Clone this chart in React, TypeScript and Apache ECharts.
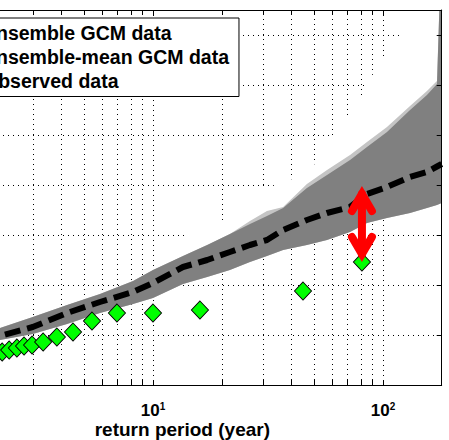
import React, { useEffect, useRef } from 'react';
import * as echarts from 'echarts';

const FONT = '"Liberation Sans", Arial, Helvetica, sans-serif';

// Return periods (years) at which the ensemble envelope and mean are sampled
const periods = [1.45, 2.16, 3.0, 4.23, 5.88, 8.19, 10, 13.5, 17.2, 21.6, 26.4, 31.3, 36.8, 46.7, 57.1, 71.9, 85.2, 104.1, 131.1, 155.3, 171.7, 180];
const ensembleLower = [0.70, 0.90, 1.02, 1.22, 1.44, 1.62, 1.74, 2.02, 2.16, 2.30, 2.46, 2.58, 2.70, 2.80, 2.90, 3.06, 3.24, 3.34, 3.44, 3.54, 3.60, 3.64];
const ensembleUpper = [0.94, 1.14, 1.36, 1.60, 1.82, 2.08, 2.30, 2.58, 2.80, 3.02, 3.22, 3.38, 3.54, 3.94, 4.20, 4.50, 4.76, 5.06, 5.50, 5.80, 6.02, 9.0];
const ensembleOuter = [0.94, 1.14, 1.36, 1.60, 1.82, 2.08, 2.30, 2.58, 2.80, 3.02, 3.28, 3.48, 3.56, 4.02, 4.30, 4.60, 4.86, 5.16, 5.58, 5.88, 6.08, 9.0];
const ensembleMean = [0.80, 0.98, 1.16, 1.44, 1.66, 1.86, 2.04, 2.36, 2.50, 2.66, 2.80, 2.90, 3.10, 3.30, 3.44, 3.56, 3.82, 3.96, 4.16, 4.26, 4.37, 4.42];

// Upper limit of the ensemble maximum envelope (white fill behind the band)
const maxEnvPeriods = [10, 13.8, 20.2, 25.1, 30.1, 36.4, 43.6, 50.1, 60.6, 70.4, 80.2, 90.5, 100, 118.6, 141.9, 180];
const maxEnvValues = [2.26, 2.98, 3.26, 3.70, 3.94, 4.02, 4.20, 4.40, 5.00, 5.36, 5.74, 6.22, 6.50, 7.02, 7.5, 7.5];

// Observed annual maxima against their return periods
const obsPeriods = [2.21, 2.37, 2.56, 2.75, 2.98, 3.33, 3.82, 4.49, 5.43, 6.97, 10.0, 16.0, 44.9, 81.0];
const obsValues = [0.66, 0.70, 0.74, 0.78, 0.80, 0.86, 0.96, 1.06, 1.28, 1.44, 1.44, 1.50, 1.88, 2.46];

// Gap between the ensemble mean and the largest observed event
const gapPeriod = 81.0;
const gapTop = 3.82;
const gapBottom = 2.62;

const xMin = 1;
const xMax = 180;
const yMin = 0;
const yMax = 7.5;
const yStep = 1;
const minorPeriods = [2, 3, 4, 5, 6, 7, 8, 9, 20, 30, 40, 50, 60, 70, 80, 90];

export default function App() {
  const ref = useRef<HTMLDivElement>(null);

  useEffect(() => {
    if (!ref.current) return;
    const chart = echarts.init(ref.current, undefined, { renderer: 'svg' });

    const coverLowT = periods.filter((t) => t >= 10);
    const coverLowV = ensembleLower.filter((_, i) => periods[i] >= 10);

    const axisLineStyle = { color: '#000', width: 1 };
    const dotted = { color: '#000', width: 1, type: [1, 4] as number[] };

    // closed outline: top curve left-to-right, then bottom curve right-to-left
    const outline = (api: any, topT: number[], topV: number[], botT: number[], botV: number[]) => {
      const pts: number[][] = [];
      for (let i = 0; i < topT.length; i++) pts.push(api.coord([topT[i], topV[i]]));
      for (let i = botT.length - 1; i >= 0; i--) pts.push(api.coord([botT[i], botV[i]]));
      return pts;
    };

    chart.setOption({
      animation: false,
      backgroundColor: '#fff',
      grid: { left: -77, right: 7.3, top: 10, bottom: 55, containLabel: false, outerBoundsMode: 'none' },
      legend: {
        orient: 'vertical',
        left: -73,
        top: 18,
        itemWidth: 40,
        itemHeight: 14,
        itemGap: 4,
        padding: [5.25, 10, 5.25, 10],
        backgroundColor: '#fff',
        borderColor: '#000',
        borderWidth: 1,
        borderRadius: 0,
        selectedMode: false,
        z: 20,
        textStyle: { fontSize: 19.5, fontWeight: 'bold', fontFamily: FONT, color: '#000' },
        data: [
          { name: 'Ensemble GCM data', icon: 'rect', itemStyle: { color: '#808080' } },
          { name: 'Ensemble-mean GCM data' },
          { name: 'Observed data', icon: 'diamond' },
        ],
      },
      xAxis: [
        {
          type: 'log',
          logBase: 10,
          min: xMin,
          max: xMax,
          position: 'bottom',
          name: 'return period (year)',
          nameLocation: 'middle',
          nameGap: 35,
          nameMoveOverlap: false,
          nameTextStyle: { fontSize: 19, lineHeight: 19, fontWeight: 'bold', fontFamily: FONT, color: '#000' },
          axisLine: { show: true, onZero: false, lineStyle: axisLineStyle },
          axisTick: { show: true, inside: true, length: 5, lineStyle: axisLineStyle },
          axisLabel: {
            show: true,
            margin: 16,
            color: '#000',
            formatter: (v: number) => {
              const e = Math.round(Math.log10(v));
              if (e < 1 || Math.abs(Math.pow(10, e) - v) > 1e-6 * v) return '';
              return `{b|10}{s|${e}}`;
            },
            rich: {
              b: { fontSize: 17, fontWeight: 'bold', fontFamily: FONT, color: '#000', lineHeight: 18, verticalAlign: 'bottom' },
              s: { fontSize: 10, fontWeight: 'bold', fontFamily: FONT, color: '#000', lineHeight: 8, verticalAlign: 'top' },
            },
          },
          splitLine: { show: true, lineStyle: dotted },
          minorTick: { show: false },
        },
        {
          type: 'log',
          logBase: 10,
          min: xMin,
          max: xMax,
          position: 'top',
          z: 3,
          axisLine: { show: true, onZero: false, lineStyle: axisLineStyle },
          axisTick: { show: true, inside: true, length: 5, lineStyle: axisLineStyle },
          axisLabel: { show: false },
          splitLine: { show: false },
        },
      ],
      yAxis: [
        {
          type: 'value',
          min: yMin,
          max: yMax,
          interval: yStep,
          position: 'left',
          axisLine: { show: true, onZero: false, lineStyle: axisLineStyle },
          axisTick: { show: false },
          axisLabel: { show: false },
          splitLine: { show: true, lineStyle: dotted },
        },
        {
          type: 'value',
          min: yMin,
          max: yMax,
          interval: yStep,
          position: 'right',
          z: 3,
          axisLine: { show: true, onZero: false, lineStyle: axisLineStyle },
          axisTick: { show: true, inside: true, length: 5, lineStyle: axisLineStyle },
          axisLabel: { show: false },
          splitLine: { show: false },
        },
      ],
      series: [
        // dotted grid lines at the intermediate log positions
        {
          type: 'custom',
          z: 1,
          silent: true,
          data: minorPeriods.map((t) => [t, yMin]),
          renderItem: (_p: any, api: any) => {
            const t = api.value(0);
            const a = api.coord([t, yMin]);
            const b = api.coord([t, yMax]);
            const x = Math.round(a[0]) + 0.5;
            return {
              type: 'line',
              shape: { x1: x, y1: a[1], x2: x, y2: b[1] },
              style: { stroke: '#000', lineWidth: 1, lineDash: [1, 4] },
            };
          },
        },
        // ensemble spread: white maximum envelope, light outer range, grey band
        {
          type: 'custom',
          name: 'Ensemble GCM data',
          z: 2,
          silent: true,
          clip: true,
          data: [[periods[0], ensembleUpper[0]]],
          renderItem: (_p: any, api: any) => ({
            type: 'group',
            children: [
              {
                type: 'polygon',
                shape: { points: outline(api, maxEnvPeriods, maxEnvValues, coverLowT, coverLowV) },
                style: { fill: '#ffffff' },
              },
              {
                type: 'polygon',
                shape: { points: outline(api, periods, ensembleOuter, periods, ensembleLower) },
                style: { fill: '#c4c4c4' },
              },
              {
                type: 'polygon',
                shape: { points: outline(api, periods, ensembleUpper, periods, ensembleLower) },
                style: { fill: '#808080' },
              },
            ],
          }),
        },
        // minor tick marks on bottom and top borders
        {
          type: 'custom',
          z: 2,
          silent: true,
          data: minorPeriods.map((t) => [t, yMin]),
          renderItem: (_p: any, api: any) => {
            const t = api.value(0);
            const a = api.coord([t, yMin]);
            const b = api.coord([t, yMax]);
            const x = Math.round(a[0]) + 0.5;
            const st = { stroke: '#000', lineWidth: 1 };
            return {
              type: 'group',
              children: [
                { type: 'line', shape: { x1: x, y1: a[1], x2: x, y2: a[1] - 5 }, style: st },
                { type: 'line', shape: { x1: x, y1: b[1], x2: x, y2: b[1] + 5 }, style: st },
              ],
            };
          },
        },
        {
          type: 'line',
          name: 'Ensemble-mean GCM data',
          z: 5,
          silent: true,
          showSymbol: false,
          symbol: 'none',
          data: periods.map((t, i) => [t, ensembleMean[i]]),
          lineStyle: { color: '#000', width: 6, type: [16, 7], cap: 'butt' },
          itemStyle: { color: '#000' },
        },
        {
          type: 'scatter',
          name: 'Observed data',
          z: 6,
          silent: true,
          symbol: 'diamond',
          symbolSize: [17, 18],
          data: obsPeriods.map((t, i) => [t, obsValues[i]]),
          itemStyle: { color: '#00ff00', borderColor: '#000', borderWidth: 1, opacity: 1 },
        },
        // double-headed arrow between ensemble mean and observed maximum
        {
          type: 'custom',
          z: 7,
          silent: true,
          data: [[gapPeriod, gapTop, gapBottom]],
          encode: { x: 0, y: [1, 2] },
          renderItem: (_p: any, api: any) => {
            const top = api.coord([api.value(0), api.value(1)]);
            const bot = api.coord([api.value(0), api.value(2)]);
            const style = { stroke: '#ff0000', lineWidth: 8, lineCap: 'round', lineJoin: 'miter', fill: null };
            return {
              type: 'group',
              children: [
                { type: 'line', shape: { x1: top[0], y1: top[1], x2: bot[0], y2: bot[1] }, style },
                { type: 'polyline', shape: { points: [[top[0] - 10, top[1] + 17], top, [top[0] + 10, top[1] + 17]] }, style },
                { type: 'polyline', shape: { points: [[bot[0] - 10, bot[1] - 17], bot, [bot[0] + 10, bot[1] - 17]] }, style },
              ],
            };
          },
        },
      ],
    });

    return () => chart.dispose();
  }, []);

  return (
    <div
      ref={ref}
      style={{ position: 'fixed', left: 0, top: 0, width: 449, height: 440, background: '#fff' }}
    />
  );
}
